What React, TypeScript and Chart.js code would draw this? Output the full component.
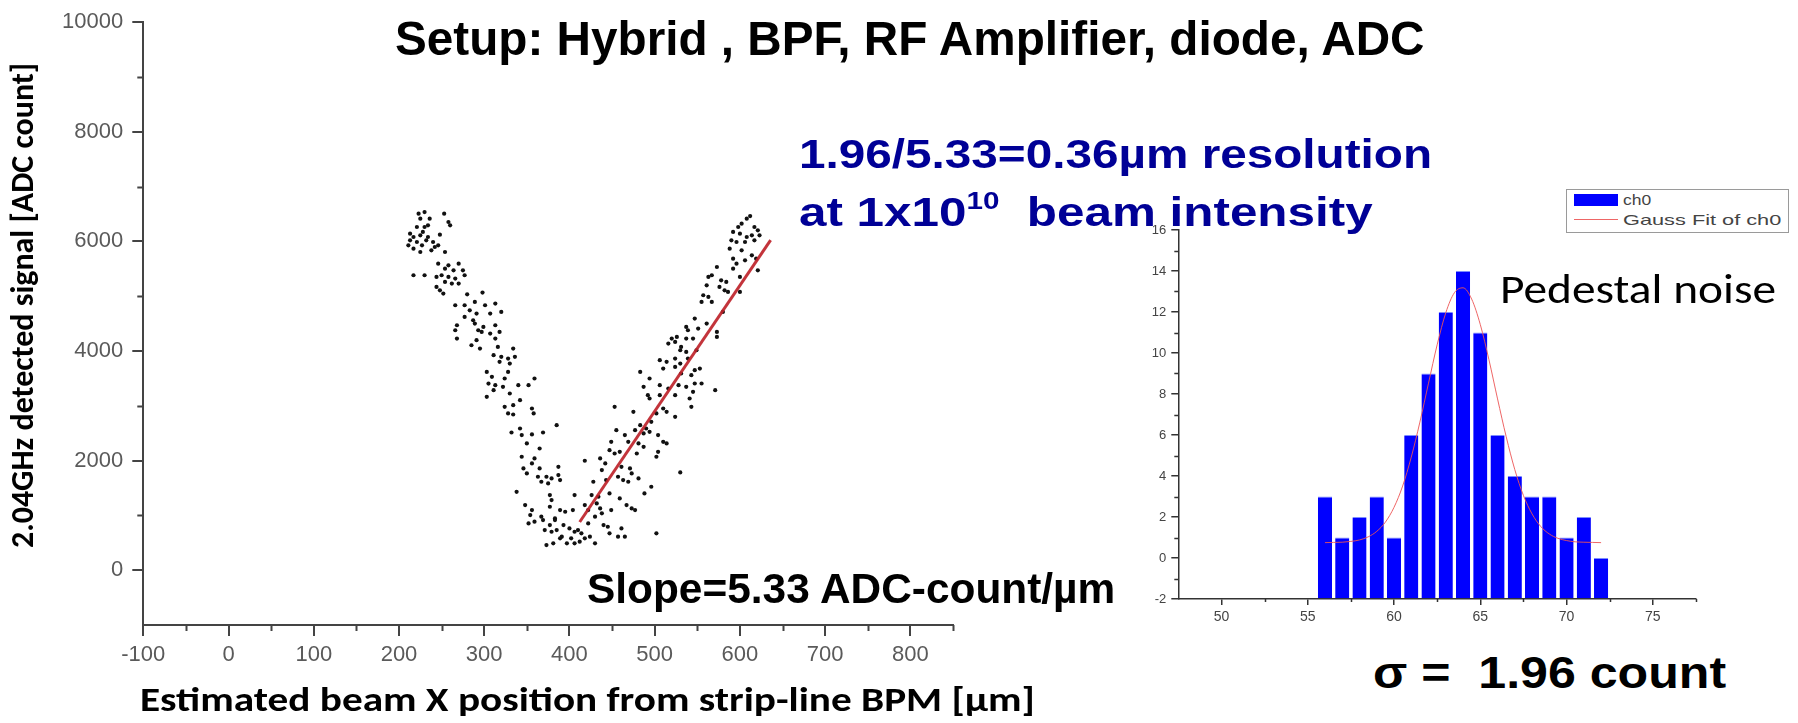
import React, { useEffect, useLayoutEffect, useRef, useState } from 'react';
import { Chart, registerables } from 'chart.js';

Chart.register(...registerables);

// ---------------- Scatter (left) data ----------------
const leftArmX = [
  223, 230, 253, 225, 236, 258, 260, 221, 230, 234, 213, 228, 217, 225, 234, 248, 213, 221, 232, 240,
  211, 217, 227, 242, 225, 238, 254, 246,
  246, 258, 270, 254, 264, 275, 217, 230, 244, 250, 258, 266, 277, 254, 262, 270, 244, 248, 252,
  280, 298, 266, 277, 289, 301, 313, 283, 291, 307, 320, 277, 287, 268, 289, 299, 313, 266, 293, 297,
  307, 318, 268, 291, 313, 285, 295, 316, 334, 311, 320, 328, 336, 318,
  330, 303, 328, 309, 324, 359, 305, 313, 322, 340, 352, 311, 330, 303, 342, 324, 334, 356, 328, 334, 358,
  385, 332, 342, 344, 356, 369, 350, 365, 344, 359, 356, 346, 365, 387, 350, 363, 373, 379, 387, 389, 367, 375,
  338, 377, 379, 348, 356, 377, 389, 354, 367, 383, 352, 359, 369, 377, 383, 371, 379, 385, 373, 381, 389,
];
const leftArmY = [
  6506, 6536, 6506, 6415, 6415, 6354, 6293, 6263, 6263, 6293, 6141, 6172, 6080, 6111, 6080, 6123, 6020, 5989, 6020, 5989,
  5928, 5868, 5928, 5898, 5807, 5837, 5807, 5928,
  5594, 5564, 5594, 5503, 5473, 5473, 5382, 5382, 5351, 5382, 5351, 5321, 5382, 5260, 5230, 5230, 5169, 5108, 5047,
  5035, 5066, 4835, 4835, 4895, 4835, 4865, 4743, 4683, 4683, 4713, 4622, 4561, 4470, 4500, 4440, 4470, 4379, 4379, 4348,
  4318, 4348, 4227, 4197, 4227, 4105, 4045, 4075, 4045, 3923, 3893, 3862, 3893, 3802,
  3771, 3619, 3619, 3528, 3498, 3498, 3406, 3376, 3346, 3376, 3376, 3285, 3224, 3163, 3103, 2981, 3011, 2951, 2860, 2841, 2860,
  2647, 2513, 2586, 2465, 2477, 2513, 2313, 2221, 2070, 2039, 1948, 1857, 1857, 1887, 1766, 1705, 1705, 1675, 1735, 1644, 1614, 1583,
  1431, 1371, 1280, 1188, 1097, 1158, 1097, 1006, 976, 945, 854, 885, 915, 824, 915, 733, 702, 733, 459, 490, 581,
];
const rightArmX = [
  612, 608, 602, 598, 617, 621, 592, 600, 608, 614, 623, 590, 596, 606, 617, 588, 602, 614, 592, 606,
  619, 596, 621, 573, 563, 567, 592, 600, 578, 584, 576, 582, 586, 561, 557, 563, 555, 567, 600, 580,
  547, 561, 537, 539, 551, 573, 573, 520, 526, 516, 524, 531, 537, 545, 530, 537, 549, 506, 514, 524,
  530, 539, 547, 553, 543, 510, 524, 531, 483, 494, 487, 506, 516, 528, 537, 547, 555, 545, 571, 524,
  492, 494, 506, 541, 543, 510, 514, 502, 524, 475, 453, 496, 483, 490, 494, 477, 487, 455, 465, 469,
  504, 510, 514, 449, 447, 453, 459, 481, 487, 504, 502, 479, 418, 436, 442, 438, 461, 471, 473, 481,
  530, 428, 443, 457, 463, 469, 426, 434, 406, 447, 459, 496, 488, 418, 432, 436, 449, 467, 473, 477,
  404, 422, 430, 438, 422, 440, 445, 461, 447, 502, 457, 465, 395, 393, 400, 406, 410, 414, 418, 402,
  397, 406, 412, 424, 430, 391,
];
const rightArmY = [
  6463, 6415, 6323, 6263, 6263, 6202, 6172, 6141, 6080, 6111, 6111, 6020, 5989, 5989, 6020, 5868, 5837, 5746, 5685, 5655,
  5685, 5594, 5473, 5533, 5351, 5382, 5503, 5351, 5290, 5260, 5169, 5108, 5078, 5199, 5017, 4987, 4896, 4896, 5078, 4713,
  4592, 4500, 4440, 4379, 4409, 4348, 4257, 4227, 4257, 4136, 4166, 4075, 4227, 4227, 4014, 3984, 4014, 3832, 3802, 3862,
  3771, 3862, 3650, 3680, 3558, 3680, 3710, 3589, 3619, 3498, 3346, 3376, 3315, 3376, 3346, 3407, 3407, 3255, 3285, 3194,
  3194, 3133, 3194, 3133, 2981, 2951, 2890, 2860, 2799, 2890, 2981, 2708, 2647, 2586, 2525, 2556, 2495, 2556, 2465, 2343,
  2465, 2343, 2313, 2343, 2191, 2130, 2161, 2313, 2252, 2161, 2070, 2130, 1997, 2039, 1948, 1827, 1887, 1857, 1766, 1675,
  1784, 1614, 1644, 1705, 1644, 1614, 1371, 1340, 1371, 1401, 1310, 1523, 1401, 1188, 1219, 1128, 1097, 1188, 1128, 1097,
  1097, 1097, 976, 1037, 854, 824, 793, 763, 672, 672, 611, 611, 1067, 824, 763, 702, 733, 672, 581, 581,
  490, 490, 520, 611, 490, 611,
];
const fitX = [412, 636];
const fitY = [880, 6024];

const scatterXTicks = [-100, 0, 100, 200, 300, 400, 500, 600, 700, 800];
const scatterXMinor = [-50, 50, 150, 250, 350, 450, 550, 650, 750, 850];
const scatterYTicks = [0, 2000, 4000, 6000, 8000, 10000];
const scatterYMinor = [1000, 3000, 5000, 7000, 9000];

// ---------------- Histogram (right) data ----------------
const histBins = [56, 57, 58, 59, 60, 61, 62, 63, 64, 65, 66, 67, 68, 69, 70, 71, 72];
const histCounts = [3, 1, 2, 3, 1, 6, 9, 12, 14, 11, 6, 4, 3, 3, 1, 2, 0];
const gaussX = [56, 56.5, 57, 57.5, 58, 58.5, 59, 59.5, 60, 60.5, 61, 61.5, 62, 62.5, 63, 63.5, 64,
  64.5, 65, 65.5, 66, 66.5, 67, 67.5, 68, 68.5, 69, 69.5, 70, 70.5, 71, 71.5, 72];
const gaussY = [0.75, 0.76, 0.77, 0.81, 0.88, 1.03, 1.3, 1.75, 2.47, 3.51, 4.92, 6.63, 8.53, 10.4, 11.96, 12.94, 13.18,
  12.63, 11.39, 9.68, 7.76, 5.92, 4.31, 3.05, 2.15, 1.54, 1.17, 0.96, 0.85, 0.79, 0.77, 0.76, 0.75];
const histXTicks = [50, 55, 60, 65, 70, 75];
const histXMinor = [52.5, 57.5, 62.5, 67.5, 72.5, 77.5];
const histYTicks = [-2, 0, 2, 4, 6, 8, 10, 12, 14, 16];
const histYMinor = [-1, 1, 3, 5, 7, 9, 11, 13, 15];

const SANS = '"Liberation Sans", Arial, Helvetica, sans-serif';
const NARROW = '"Liberation Sans Narrow", "Arial Narrow", "Liberation Sans", Arial, sans-serif';
const HUMAN = 'Carlito, Calibri, Lato, "Open Sans", sans-serif';

const minorTicksPlugin = {
  id: 'minorTicks',
  afterDraw(chart: any, _args: any, opts: any) {
    const ctx = chart.ctx;
    const xs = chart.scales.x;
    const ys = chart.scales.y;
    ctx.save();
    ctx.strokeStyle = opts.color;
    ctx.lineWidth = opts.width;
    ctx.beginPath();
    (opts.x || []).forEach((v: number) => {
      const px = Math.round(xs.getPixelForValue(v)) + 0.5;
      ctx.moveTo(px, xs.top);
      ctx.lineTo(px, xs.top + opts.xLen);
    });
    (opts.y || []).forEach((v: number) => {
      const py = Math.round(ys.getPixelForValue(v)) + 0.5;
      ctx.moveTo(ys.right, py);
      ctx.lineTo(ys.right - opts.yLen, py);
    });
    ctx.stroke();
    ctx.restore();
  },
};

function ScatterChart() {
  const ref = useRef<HTMLCanvasElement>(null);
  useEffect(() => {
    const pts = (xs: number[], ys: number[]) => xs.map((x, i) => ({ x, y: ys[i] }));
    const chart = new Chart(ref.current as HTMLCanvasElement, {
      type: 'scatter',
      data: {
        datasets: [
          {
            type: 'line',
            data: pts(fitX, fitY),
            borderColor: 'rgba(190,35,42,0.92)',
            borderWidth: 3,
            pointRadius: 0,
            order: 0,
          } as any,
          {
            data: pts(leftArmX, leftArmY),
            pointRadius: 2.1,
            backgroundColor: '#111',
            borderWidth: 0,
            order: 1,
          },
          {
            data: pts(rightArmX, rightArmY),
            pointRadius: 2.1,
            backgroundColor: '#111',
            borderWidth: 0,
            order: 1,
          },
        ],
      },
      options: {
        responsive: false,
        animation: false,
        devicePixelRatio: 1,
        layout: { padding: { left: 0, top: 21.7, right: 47, bottom: 0 } },
        plugins: {
          legend: { display: false },
          tooltip: { enabled: false },
          minorTicks: { x: scatterXMinor, y: scatterYMinor, xLen: 6, yLen: 6, color: '#444', width: 2 },
        } as any,
        scales: {
          x: {
            type: 'linear',
            min: -100,
            max: 850,
            afterBuildTicks: (s: any) => { s.ticks = scatterXTicks.map((v) => ({ value: v })); },
            afterFit: (s: any) => { s.height = 98; },
            grid: { drawOnChartArea: false, drawTicks: true, tickLength: 11, color: '#444', lineWidth: 2 },
            border: { display: true, color: '#444', width: 2 },
            ticks: {
              autoSkip: false, maxRotation: 0, padding: 6, color: '#5a5a5a',
              font: { family: SANS, size: 22 },
              callback: (v: any) => String(v),
            },
          },
          y: {
            type: 'linear',
            min: -1000,
            max: 10000,
            afterBuildTicks: (s: any) => { s.ticks = scatterYTicks.map((v) => ({ value: v })); },
            afterFit: (s: any) => { s.width = 143.3; },
            grid: { drawOnChartArea: false, drawTicks: true, tickLength: 11, color: '#444', lineWidth: 2 },
            border: { display: true, color: '#444', width: 2 },
            ticks: {
              autoSkip: false, padding: 9, color: '#5a5a5a',
              font: { family: SANS, size: 22 },
              callback: (v: any) => String(v),
            },
          },
        },
      },
      plugins: [minorTicksPlugin],
    });
    return () => chart.destroy();
  }, []);
  return (
    <canvas ref={ref} width={1000} height={723}
      style={{ position: 'absolute', left: 0, top: 0, width: 1000, height: 723 }} />
  );
}

function HistChart() {
  const ref = useRef<HTMLCanvasElement>(null);
  useEffect(() => {
    const chart = new Chart(ref.current as HTMLCanvasElement, {
      type: 'bar',
      data: {
        datasets: [
          {
            type: 'line',
            label: 'Gauss Fit of ch0',
            data: gaussX.map((x, i) => ({ x, y: gaussY[i] })),
            borderColor: 'rgba(236,85,85,0.9)',
            borderWidth: 1,
            pointRadius: 0,
            cubicInterpolationMode: 'monotone',
            order: 0,
          } as any,
          {
            type: 'bar',
            label: 'ch0',
            data: histBins.map((x, i) => ({ x, y: histCounts[i] })),
            base: -2,
            backgroundColor: '#0000ff',
            borderColor: '#7d8cff',
            borderWidth: { top: 1, left: 0, right: 0, bottom: 0 },
            borderSkipped: false,
            barPercentage: 0.82,
            categoryPercentage: 1,
            order: 1,
          } as any,
        ],
      },
      options: {
        responsive: false,
        animation: false,
        devicePixelRatio: 1,
        layout: { padding: { left: 0, top: 30, right: 102, bottom: 0 } },
        plugins: {
          legend: { display: false },
          tooltip: { enabled: false },
          minorTicks: { x: histXMinor, y: histYMinor, xLen: 3, yLen: 4, color: '#333', width: 1.5 },
        } as any,
        scales: {
          x: {
            type: 'linear',
            min: 47.5,
            max: 77.5,
            offset: false,
            afterBuildTicks: (s: any) => { s.ticks = histXTicks.map((v) => ({ value: v })); },
            afterFit: (s: any) => { s.height = 41; },
            grid: { offset: false, drawOnChartArea: false, drawTicks: true, tickLength: 6, color: '#333', lineWidth: 1.5 },
            border: { display: true, color: '#333', width: 1.5 },
            ticks: { autoSkip: false, maxRotation: 0, padding: 4, color: '#444', font: { family: SANS, size: 14 } },
          },
          y: {
            type: 'linear',
            min: -2,
            max: 16,
            afterBuildTicks: (s: any) => { s.ticks = histYTicks.map((v) => ({ value: v })); },
            afterFit: (s: any) => { s.width = 78.3; },
            grid: { drawOnChartArea: false, drawTicks: true, tickLength: 7, color: '#333', lineWidth: 1.5 },
            border: { display: true, color: '#333', width: 1.5 },
            ticks: { autoSkip: false, padding: 5, color: '#444', font: { family: SANS, size: 13 } },
          },
        },
      },
      plugins: [minorTicksPlugin],
    });
    return () => chart.destroy();
  }, []);
  return (
    <canvas ref={ref} width={698} height={440}
      style={{ position: 'absolute', left: 1100, top: 200, width: 698, height: 440 }} />
  );
}

type FitProps = {
  children: React.ReactNode;
  x: number;          // left edge (or baseline x when rotated)
  baseline: number;   // baseline y (or bottom end y when rotated)
  width: number;      // target text length
  size: number;
  family: string;
  weight?: number | string;
  color?: string;
  rotate?: boolean;
};

function FitText({ children, x, baseline, width, size, family, weight = 700, color = '#000', rotate = false }: FitProps) {
  const boxRef = useRef<HTMLDivElement>(null);
  const markRef = useRef<HTMLSpanElement>(null);
  const [m, setM] = useState<{ k: number; off: number } | null>(null);
  useLayoutEffect(() => {
    const measure = () => {
      const box = boxRef.current;
      const mark = markRef.current;
      if (!box || !mark) return;
      const w = box.offsetWidth;
      const off = mark.offsetTop;
      if (w > 0) setM({ k: width / w, off });
    };
    measure();
    const f = (document as any).fonts;
    if (f && f.ready) f.ready.then(measure);
  }, [width]);
  const k = m ? m.k : 1;
  const off = m ? m.off : 0;
  const style: React.CSSProperties = {
    position: 'absolute',
    whiteSpace: 'pre',
    fontFamily: family,
    fontWeight: weight as any,
    fontSize: size,
    lineHeight: 1.2,
    color,
    transformOrigin: '0 0',
    visibility: m ? 'visible' : 'hidden',
  };
  if (rotate) {
    style.left = x - off;
    style.top = baseline;
    style.transform = `rotate(-90deg) scaleX(${k})`;
  } else {
    style.left = x;
    style.top = baseline - off;
    style.transform = `scaleX(${k})`;
  }
  return (
    <div ref={boxRef} style={style}>
      {children}
      <span ref={markRef} style={{ display: 'inline-block', width: 0, height: 0 }} />
    </div>
  );
}

function Legend() {
  return (
    <>
      <div style={{
        position: 'absolute', left: 1566, top: 189, width: 223, height: 44,
        border: '1px solid #9a9a9a', background: '#fff', boxSizing: 'border-box',
      }}>
        <div style={{ position: 'absolute', left: 7, top: 4, width: 44, height: 12, background: '#0000ff' }} />
        <div style={{ position: 'absolute', left: 7, top: 29, width: 44, height: 1, background: 'rgba(236,85,85,0.9)' }} />
      </div>
      <FitText x={1623} baseline={205} width={28} size={15} family={SANS} weight={400} color="#444">ch0</FitText>
      <FitText x={1623} baseline={225} width={158} size={15} family={SANS} weight={400} color="#444">Gauss Fit of ch0</FitText>
    </>
  );
}

export default function App() {
  const BLUE = '#000096';
  return (
    <div style={{ position: 'absolute', left: 0, top: 0, width: 1798, height: 723, overflow: 'hidden', background: '#fff' }}>
      <ScatterChart />
      <HistChart />
      <Legend />

      <FitText x={395} baseline={55} width={1030} size={48} family={NARROW}>
        Setup: Hybrid , BPF, RF Amplifier, diode, ADC
      </FitText>

      <FitText x={799} baseline={168} width={633} size={40} family={NARROW} color={BLUE}>
        1.96/5.33=0.36µm resolution
      </FitText>
      <FitText x={799} baseline={226} width={574} size={40} family={NARROW} color={BLUE}>
        <>at 1x10<span style={{ fontSize: '0.6em', position: 'relative', top: '-0.72em' }}>10</span>  beam intensity</>
      </FitText>

      <FitText x={587} baseline={603} width={528} size={42} family={SANS}>
        Slope=5.33 ADC-count/µm
      </FitText>

      <FitText x={1500} baseline={303} width={276} size={40} family={HUMAN} weight={400}>
        Pedestal noise
      </FitText>

      <FitText x={1373} baseline={688} width={353} size={44} family={NARROW}>
        σ =  1.96 count
      </FitText>

      <FitText x={140} baseline={711} width={895} size={34} family={HUMAN}>
        Estimated beam X position from strip-line BPM [µm]
      </FitText>

      <FitText x={33} baseline={548} width={485} size={32} family={HUMAN} rotate>
        2.04GHz detected signal [ADC count]
      </FitText>
    </div>
  );
}
